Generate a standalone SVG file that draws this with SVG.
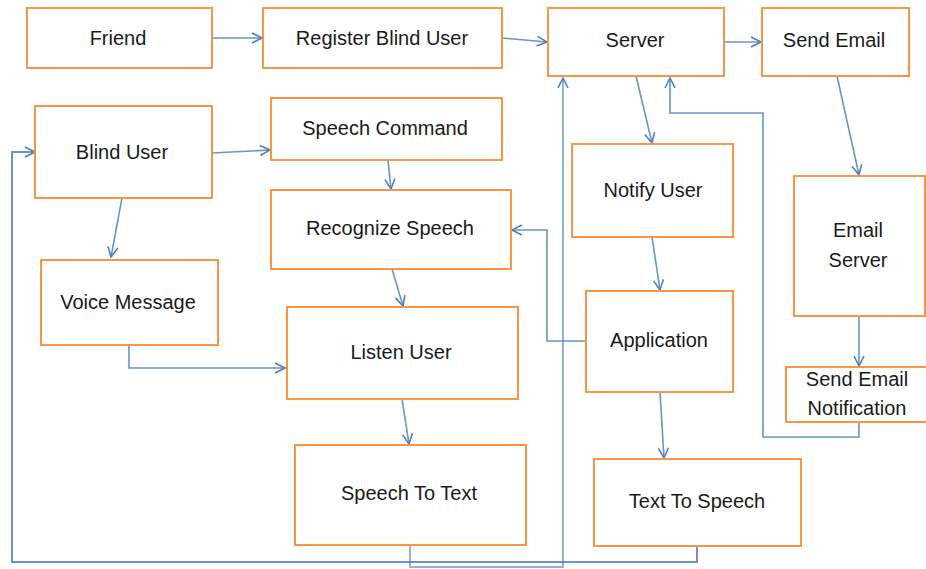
<svg xmlns="http://www.w3.org/2000/svg" width="926" height="569" viewBox="0 0 926 569">
<style>
.box{fill:#fff;stroke:#F79646;stroke-width:2}
.lbl{font-family:"Liberation Sans",Arial,sans-serif;font-size:20px;fill:#1a1a1a;text-anchor:middle}
.c{fill:none;stroke:#4F81BD;stroke-width:1.6;stroke-opacity:0.85}
</style>
<defs>
<marker id="arr" viewBox="0 0 12 12" refX="11" refY="6" markerWidth="12" markerHeight="12" markerUnits="userSpaceOnUse" orient="auto">
<path d="M1,1 L11,6 L1,11" fill="none" stroke="#4F81BD" stroke-width="1.6"/>
</marker>
</defs>
<rect width="926" height="569" fill="#fff"/>
<g id="connectors">
<line class="c" x1="212" y1="38" x2="262" y2="38" marker-end="url(#arr)"/>
<line class="c" x1="502" y1="38" x2="547" y2="42" marker-end="url(#arr)"/>
<line class="c" x1="724" y1="42" x2="761" y2="42" marker-end="url(#arr)"/>
<line class="c" x1="636" y1="76" x2="652" y2="143" marker-end="url(#arr)"/>
<line class="c" x1="837" y1="76" x2="859" y2="175" marker-end="url(#arr)"/>
<line class="c" x1="859" y1="316" x2="859" y2="366" marker-end="url(#arr)"/>
<line class="c" x1="652" y1="237" x2="660" y2="290" marker-end="url(#arr)"/>
<line class="c" x1="660" y1="392" x2="664" y2="458" marker-end="url(#arr)"/>
<line class="c" x1="212" y1="153" x2="270" y2="150" marker-end="url(#arr)"/>
<line class="c" x1="122" y1="198" x2="111" y2="257" marker-end="url(#arr)"/>
<line class="c" x1="388" y1="160" x2="391" y2="189" marker-end="url(#arr)"/>
<line class="c" x1="392" y1="269" x2="403" y2="306" marker-end="url(#arr)"/>
<line class="c" x1="402" y1="399" x2="409" y2="444" marker-end="url(#arr)"/>
<polyline class="c" points="129,345 129,368 285,368" marker-end="url(#arr)"/>
<polyline class="c" points="585,341 547,341 547,230 512,230" marker-end="url(#arr)"/>
<polyline class="c" points="859,421 859,437 763,437 763,113 670,113 670,78" marker-end="url(#arr)"/>
<polyline class="c" points="697,546 697,562 12,562 12,152 35,152" marker-end="url(#arr)" style="stroke-width:2"/>
<polyline class="c" points="410,545 410,567 563,567 563,78" marker-end="url(#arr)" style="stroke-width:2;stroke-opacity:0.6"/>
</g>
<g id="friend"><rect class="box" x="27" y="8" width="185" height="60"/><text class="lbl" x="118" y="45">Friend</text></g>
<g id="register"><rect class="box" x="263" y="8" width="239" height="60"/><text class="lbl" x="382" y="45">Register Blind User</text></g>
<g id="server"><rect class="box" x="548" y="8" width="176" height="68"/><text class="lbl" x="635" y="47">Server</text></g>
<g id="sendemail"><rect class="box" x="762" y="8" width="147" height="68"/><text class="lbl" x="834" y="47">Send Email</text></g>
<g id="blinduser"><rect class="box" x="35" y="106" width="177" height="92"/><text class="lbl" x="122" y="159">Blind User</text></g>
<g id="speechcommand"><rect class="box" x="271" y="98" width="231" height="62"/><text class="lbl" x="385" y="135">Speech Command</text></g>
<g id="recognize"><rect class="box" x="271" y="190" width="240" height="79"/><text class="lbl" x="390" y="235">Recognize Speech</text></g>
<g id="voicemessage"><rect class="box" x="41" y="260" width="177" height="85"/><text class="lbl" x="128" y="309">Voice Message</text></g>
<g id="listenuser"><rect class="box" x="287" y="307" width="231" height="92"/><text class="lbl" x="401" y="359">Listen User</text></g>
<g id="speechtotext"><rect class="box" x="295" y="445" width="231" height="100"/><text class="lbl" x="409" y="500">Speech To Text</text></g>
<g id="notifyuser"><rect class="box" x="572" y="144" width="161" height="93"/><text class="lbl" x="653" y="197">Notify User</text></g>
<g id="application"><rect class="box" x="586" y="291" width="147" height="101"/><text class="lbl" x="659" y="347">Application</text></g>
<g id="texttospeech"><rect class="box" x="594" y="459" width="207" height="87"/><text class="lbl" x="697" y="508">Text To Speech</text></g>
<g id="emailserver"><rect class="box" x="794" y="176" width="131" height="140"/><text class="lbl" x="858" y="237">Email</text><text class="lbl" x="858" y="267">Server</text></g>
<g id="sendemailnotification"><rect class="box" x="786" y="367" width="142" height="55"/><text class="lbl" x="857" y="386">Send Email</text><text class="lbl" x="857" y="415">Notification</text></g>
</svg>
